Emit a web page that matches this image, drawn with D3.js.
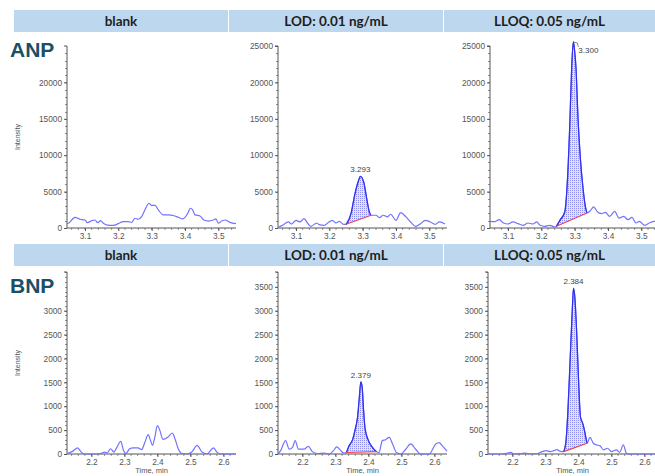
<!DOCTYPE html>
<html><head><meta charset="utf-8">
<script src="https://cdn.jsdelivr.net/npm/d3@7"></script>
<style>body{margin:0;background:#fff;}svg{display:block;}</style>
</head><body>
<svg id="c" width="655" height="476"></svg>
<script>
// ---------- DATA ----------
const columnTitles = ["blank", "LOD: 0.01 ng/mL", "LLOQ: 0.05 ng/mL"];
const analytes = ["ANP", "BNP"];
const anpXTicks = [3.1, 3.2, 3.3, 3.4, 3.5];
const bnpXTicks = [2.2, 2.3, 2.4, 2.5, 2.6];
const anpYTicksBlank = [0, 5000, 10000, 15000, 20000];
const anpYTicks = [0, 5000, 10000, 15000, 20000, 25000];
const bnpYTicksBlank = [0, 500, 1000, 1500, 2000, 2500, 3000];
const bnpYTicks = [0, 500, 1000, 1500, 2000, 2500, 3000, 3500];

// [time (min), intensity]
const anpBlank = [[3.046,600],[3.05,650],[3.07,1470],[3.085,1200],[3.10,1100],[3.107,730],[3.12,1000],[3.13,1100],[3.138,730],[3.147,1000],[3.155,650],[3.167,400],[3.185,350],[3.20,600],[3.215,870],[3.23,870],[3.24,780],[3.25,1340],[3.26,1200],[3.27,1560],[3.282,2710],[3.292,3400],[3.30,3100],[3.31,3100],[3.32,2480],[3.335,1800],[3.35,1800],[3.365,1720],[3.38,1470],[3.393,1250],[3.40,1470],[3.408,2000],[3.416,2710],[3.423,2480],[3.43,1800],[3.445,1650],[3.457,1100],[3.47,950],[3.485,1100],[3.493,1250],[3.50,650],[3.51,950],[3.52,1100],[3.535,780],[3.553,600]];
const anpLod = [[3.048,140],[3.058,330],[3.077,830],[3.087,550],[3.10,1060],[3.112,830],[3.124,1290],[3.137,510],[3.145,230],[3.162,690],[3.17,460],[3.185,370],[3.195,690],[3.209,1060],[3.22,690],[3.23,920],[3.243,510],[3.25,510],[3.265,1980],[3.277,4730],[3.288,6560],[3.293,7110],[3.303,6330],[3.313,3810],[3.32,2200],[3.325,1750],[3.34,1750],[3.35,1430],[3.362,1750],[3.374,1520],[3.384,1890],[3.40,1060],[3.414,2110],[3.43,1520],[3.444,830],[3.459,230],[3.474,600],[3.488,1060],[3.503,830],[3.518,510],[3.53,830],[3.547,550]];
const anpLloq = [[3.046,920],[3.061,880],[3.074,1150],[3.086,690],[3.10,550],[3.115,830],[3.13,600],[3.145,370],[3.16,690],[3.175,550],[3.186,830],[3.196,370],[3.21,230],[3.225,370],[3.24,140],[3.245,230],[3.257,1150],[3.27,2160],[3.277,5500],[3.285,13740],[3.291,21980],[3.296,25560],[3.300,24280],[3.304,21980],[3.31,15110],[3.317,9620],[3.325,5500],[3.332,2980],[3.337,2060],[3.347,2380],[3.357,2890],[3.367,2290],[3.38,1970],[3.392,2150],[3.405,1600],[3.42,2290],[3.433,1370],[3.447,1600],[3.46,1150],[3.472,1470],[3.484,690],[3.494,920],[3.51,370],[3.524,690],[3.539,920],[3.553,800]];
const bnpBlank = [[2.126,10],[2.143,55],[2.158,130],[2.169,40],[2.179,0],[2.194,0],[2.214,0],[2.23,15],[2.24,40],[2.248,25],[2.258,110],[2.268,40],[2.277,140],[2.289,265],[2.297,80],[2.304,10],[2.316,110],[2.326,130],[2.341,130],[2.352,90],[2.362,245],[2.372,405],[2.379,285],[2.385,180],[2.392,350],[2.40,595],[2.407,500],[2.417,305],[2.431,350],[2.445,440],[2.453,320],[2.463,110],[2.474,10],[2.489,0],[2.504,40],[2.52,180],[2.535,40],[2.55,5],[2.57,130],[2.58,40],[2.59,0],[2.62,0],[2.638,0]];
const bnpLod = [[2.126,0],[2.134,70],[2.149,280],[2.16,100],[2.17,140],[2.178,280],[2.188,100],[2.205,100],[2.218,160],[2.23,50],[2.245,10],[2.266,20],[2.281,0],[2.294,70],[2.304,150],[2.316,70],[2.326,20],[2.333,30],[2.341,170],[2.352,300],[2.36,520],[2.367,770],[2.372,1150],[2.377,1510],[2.381,1400],[2.385,940],[2.39,520],[2.40,280],[2.412,140],[2.424,50],[2.432,30],[2.442,280],[2.452,300],[2.463,350],[2.473,210],[2.485,30],[2.498,0],[2.513,100],[2.528,210],[2.543,100],[2.558,0],[2.584,0],[2.604,210],[2.614,240],[2.624,170],[2.638,60]];
const bnpLloq = [[2.126,0],[2.17,0],[2.185,20],[2.195,35],[2.205,0],[2.225,10],[2.24,20],[2.252,0],[2.275,10],[2.29,50],[2.302,70],[2.315,50],[2.325,70],[2.335,90],[2.345,55],[2.355,50],[2.362,245],[2.368,885],[2.375,2000],[2.382,3120],[2.385,3470],[2.389,3290],[2.395,2490],[2.401,1440],[2.406,780],[2.413,640],[2.419,470],[2.426,225],[2.435,350],[2.445,225],[2.455,190],[2.465,175],[2.476,85],[2.488,120],[2.50,50],[2.515,85],[2.525,35],[2.536,190],[2.546,10],[2.556,0],[2.638,0]];

// peak integration windows [start, end] and retention-time labels
const anpLodPeak = [3.25, 3.325], anpLloqPeak = [3.245, 3.337];
const bnpLodPeak = [2.333, 2.424], bnpLloqPeak = [2.355, 2.426];
const peakLabels = ["3.293", "3.300", "2.379", "2.384"];

// ---------- LAYOUT ----------
const svg = d3.select("#c");
const W = 169;
const rows = [
  { name: analytes[0], headerY: 10, labelY: 57, top: 46, bottom: 228, xs: [67, 278, 490],
    xDomain: [3.046, 3.553], yDomain: [0, 25000], xTicks: anpXTicks, minorY: 1000, minorX: 0.02,
    yTicks: [anpYTicksBlank, anpYTicks, anpYTicks],
    data: [anpBlank, anpLod, anpLloq], peaks: [null, anpLodPeak, anpLloqPeak],
    labels: [null, peakLabels[0], peakLabels[1]], leader: [false, false, true], timeLabel: false },
  { name: analytes[1], headerY: 244, labelY: 293, top: 272, bottom: 454, xs: [67, 278, 488],
    xDomain: [2.126, 2.638], yDomain: [0, 3810], xTicks: bnpXTicks, minorY: 100, minorX: 0.02,
    yTicks: [bnpYTicksBlank, bnpYTicks, bnpYTicks],
    data: [bnpBlank, bnpLod, bnpLloq], peaks: [null, bnpLodPeak, bnpLloqPeak],
    labels: [null, peakLabels[2], peakLabels[3]], leader: [false, false, false], timeLabel: true }
];
const headerX = [[14, 228], [229, 443], [444, 655]];

// hatch pattern
const defs = svg.append("defs");
const pat = defs.append("pattern").attr("id", "hatch").attr("patternUnits", "userSpaceOnUse")
  .attr("width", 2).attr("height", 2);
pat.append("rect").attr("width", 2).attr("height", 2).attr("fill", "#e2e2fd");
pat.append("rect").attr("width", 1).attr("height", 1).attr("fill", "#8e8ef4");

const tickFont = "'Liberation Sans', Arial, sans-serif";
const lineCol = "#7272ff", peakCol = "#3030e8";

rows.forEach(row => {
  // headers
  headerX.forEach((hx, i) => {
    svg.append("rect").attr("x", hx[0]).attr("y", row.headerY).attr("width", hx[1] - hx[0])
      .attr("height", 22).attr("fill", "#bdd7ee");
    svg.append("text").attr("x", (hx[0] + hx[1]) / 2).attr("y", row.headerY + 15.5)
      .attr("text-anchor", "middle").attr("font-family", "Lato, 'Liberation Sans', sans-serif")
      .attr("font-weight", "bold").attr("font-size", 13.5).attr("fill", "#1e1e1e").text(columnTitles[i]);
  });
  svg.append("text").attr("x", 10).attr("y", row.labelY).attr("font-family", "'Liberation Sans', Arial, sans-serif")
    .attr("font-weight", "bold").attr("font-size", 21).attr("fill", "#1b4f68").text(row.name);

  row.xs.forEach((x0, i) => {
    const x = d3.scaleLinear().domain(row.xDomain).range([x0, x0 + W]);
    const y = d3.scaleLinear().domain(row.yDomain).range([row.bottom, row.top]);
    const g = svg.append("g");

    // minor ticks
    const minorY = d3.range(0, row.yDomain[1], row.minorY);
    g.selectAll(null).data(minorY).join("line")
      .attr("x1", x0 - 2).attr("x2", x0).attr("y1", d => Math.round(y(d)) + 0.5).attr("y2", d => Math.round(y(d)) + 0.5)
      .attr("stroke", "#777").attr("stroke-width", 0.8);
    const minorX = d3.range(Math.ceil(row.xDomain[0] / row.minorX) * row.minorX, row.xDomain[1], row.minorX);
    g.selectAll(null).data(minorX).join("line")
      .attr("x1", d => x(d)).attr("x2", d => x(d)).attr("y1", row.bottom).attr("y2", row.bottom + 2)
      .attr("stroke", "#777").attr("stroke-width", 0.8);

    // axes
    const ya = d3.axisLeft(y).tickValues(row.yTicks[i]).tickSize(3).tickPadding(2).tickFormat(d3.format("d"));
    const yg = g.append("g").attr("transform", `translate(${x0},0)`).call(ya);
    const xa = d3.axisBottom(x).tickValues(row.xTicks).tickSize(3).tickPadding(2).tickFormat(d3.format(".1f"));
    const xg = g.append("g").attr("transform", `translate(0,${row.bottom})`).call(xa);
    [yg, xg].forEach(a => {
      a.select(".domain").attr("stroke", "#555").attr("stroke-width", 1);
      a.selectAll(".tick line").attr("stroke", "#555");
      a.selectAll("text").attr("font-family", tickFont).attr("font-size", 8.3).attr("fill", "#555");
    });
    yg.select(".domain").attr("d", `M-3,${row.top}H0V${row.bottom}`);
    xg.select(".domain").attr("d", `M${x0},0H${x0 + W}`);

    if (i === 0) {
      svg.append("text").attr("transform", `translate(20,${(row.top + row.bottom) / 2}) rotate(-90)`)
        .attr("text-anchor", "middle").attr("font-family", tickFont).attr("font-size", 7)
        .attr("fill", "#555").text("Intensity");
    }
    if (row.timeLabel) {
      svg.append("text").attr("x", x0 + W / 2).attr("y", row.bottom + 19).attr("text-anchor", "middle")
        .attr("font-family", tickFont).attr("font-size", 7.5).attr("fill", "#555").text("Time, min");
    }

    const data = row.data[i];
    const line = d3.line().x(d => x(d[0])).y(d => y(d[1])).curve(d3.curveMonotoneX);
    const pk = row.peaks[i];
    if (pk) {
      const seg = data.filter(d => d[0] >= pk[0] - 1e-9 && d[0] <= pk[1] + 1e-9);
      g.append("path").attr("d", line(seg) + "Z").attr("fill", "url(#hatch)").attr("stroke", "none");
    }
    g.append("path").attr("d", line(data)).attr("fill", "none").attr("stroke", lineCol).attr("stroke-width", 1.2);
    if (pk) {
      const seg = data.filter(d => d[0] >= pk[0] - 1e-9 && d[0] <= pk[1] + 1e-9);
      g.append("path").attr("d", line(seg)).attr("fill", "none").attr("stroke", peakCol).attr("stroke-width", 1.2);
      const a = seg[0], b = seg[seg.length - 1];
      g.append("line").attr("x1", x(a[0])).attr("y1", y(a[1])).attr("x2", x(b[0])).attr("y2", y(b[1]))
        .attr("stroke", "#f04040").attr("stroke-width", 1.1);
      const apex = seg.reduce((m, d) => d[1] > m[1] ? d : m, seg[0]);
      const ax = x(apex[0]), ay = y(apex[1]);
      if (row.leader[i]) {
        g.append("path").attr("d", `M${ax},${ay}L${ax + 4},${ay + 1}L${ax + 5},${ay + 5}`)
          .attr("fill", "none").attr("stroke", "#555").attr("stroke-width", 0.7);
        g.append("text").attr("x", ax + 5).attr("y", ay + 11).attr("font-family", tickFont)
          .attr("font-size", 8).attr("fill", "#444").text(row.labels[i]);
      } else {
        g.append("text").attr("x", ax).attr("y", ay - 4).attr("text-anchor", "middle").attr("font-family", tickFont)
          .attr("font-size", 8).attr("fill", "#444").text(row.labels[i]);
      }
    }
  });
});
</script>
</body></html>
